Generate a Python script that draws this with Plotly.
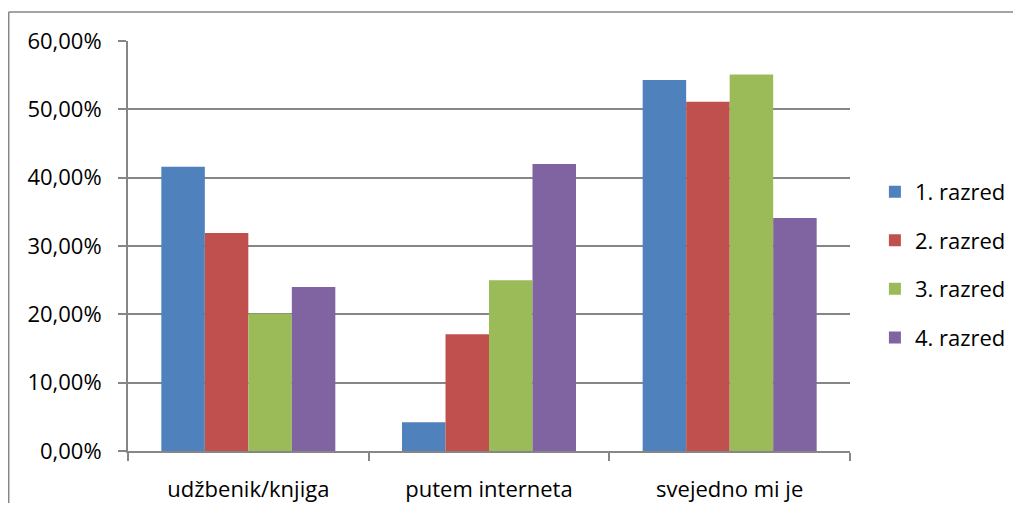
import plotly.graph_objects as go

categories = ["udžbenik/knjiga", "putem interneta", "svejedno mi je"]
series_names = ["1. razred", "2. razred", "3. razred", "4. razred"]
razred_1 = [0.416, 0.042, 0.543]
razred_2 = [0.319, 0.171, 0.511]
razred_3 = [0.201, 0.250, 0.551]
razred_4 = [0.240, 0.420, 0.341]
y_ticks = [0, 0.1, 0.2, 0.3, 0.4, 0.5, 0.6]
y_tick_labels = ["0,00%", "10,00%", "20,00%", "30,00%", "40,00%", "50,00%", "60,00%"]

COLORS = ["#4f81bd", "#c0504d", "#9bbb59", "#8064a2"]

# page body adds 8px margin all round; keep the figure inside the window
OFF = 8
W, H = 1021 - 2 * OFF, 511 - 2 * OFF
L, T = 128 - OFF, 41 - OFF
R = W - (850 - OFF)
B = H - (451 - OFF)

fig = go.Figure()
for i, (name, vals, col) in enumerate(zip(series_names, [razred_1, razred_2, razred_3, razred_4], COLORS)):
    fig.add_trace(go.Bar(x=categories, y=vals, name=name, marker_color=col,
                         marker_line_width=0, legendgroup=f"g{i}"))

pw, ph = W - L - R, H - T - B
# outer chart border: only top and left edges fall inside the frame
bx = (8 - OFF - L) / pw + 0.001
by = 1 + (T - (12 - OFF)) / ph
fig.add_shape(type="line", xref="paper", yref="paper",
              x0=bx, x1=(W + 20 - L) / pw, y0=by, y1=by,
              line=dict(color="#868686", width=1.5), layer="below")
fig.add_shape(type="line", xref="paper", yref="paper",
              x0=bx, x1=bx, y0=by, y1=-(H + 20 - (H - B)) / ph,
              line=dict(color="#868686", width=1.5), layer="below")

fig.update_layout(
    width=W, height=H,
    margin=dict(l=L, r=R, t=T, b=B, autoexpand=False),
    plot_bgcolor="white", paper_bgcolor="white",
    font=dict(family="Open Sans", size=22, color="#000000"),
    barmode="group", bargap=0.277, bargroupgap=0,
    showlegend=True,
    legend=dict(x=1.0345, y=0.454, xanchor="left", yanchor="middle",
                font=dict(size=22), tracegroupgap=17, itemwidth=30,
                itemsizing="constant"),
)
fig.update_xaxes(showline=True, linecolor="#868686", linewidth=2,
                 ticks="outside", tickson="boundaries", ticklen=8,
                 tickcolor="#868686", tickwidth=2, showgrid=False,
                 ticklabelstandoff=18, tickfont=dict(size=22))
fig.update_yaxes(range=[0, 0.6], tickvals=y_ticks, ticktext=y_tick_labels,
                 showline=True, linecolor="#868686", linewidth=2,
                 ticks="outside", ticklen=8, tickcolor="#868686", tickwidth=2,
                 showgrid=True, gridcolor="#868686", gridwidth=1.5,
                 zeroline=False, ticklabelstandoff=12, tickfont=dict(size=22))

fig.write_html("out.html")
